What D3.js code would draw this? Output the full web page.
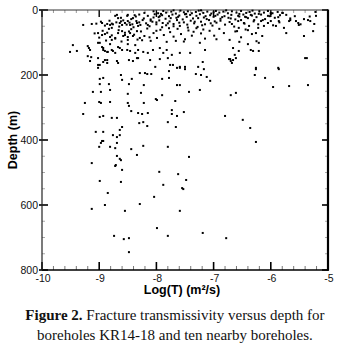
<!DOCTYPE html>
<html><head><meta charset="utf-8">
<script src="https://cdn.jsdelivr.net/npm/d3@7/dist/d3.min.js"></script>
<style>body{margin:0;background:#fff}svg{display:block}</style>
</head><body>
<svg id="c" width="345" height="350"></svg>
<script>
// ---- data ----
const xMajorTicks = [-10, -9, -8, -7, -6, -5];
const yMajorTicks = [0, 200, 400, 600, 800];
const xTitle = "Log(T) (m²/s)";
const yTitle = "Depth (m)";
const captionBold = "Figure 2.";
const captionLine1 = " Fracture transmissivity versus depth for";
const captionLine2 = "boreholes KR14-18 and ten nearby boreholes.";

// [log10 T, depth m] – near-surface band (0–100 m)
const shallowFractures = [
[-8.21,9],[-8.05,4],[-7.97,10],[-7.88,3],[-7.83,8],[-7.74,5],[-7.66,11],[-7.58,2],[-7.52,7],[-7.45,4],[-7.38,10],[-7.31,6],[-7.26,2],[-7.18,9],[-7.11,5],[-7.04,11],[-6.96,3],[-6.9,8],[-6.83,5],[-6.75,10],[-6.68,4],[-6.6,8],[-6.52,3],[-6.43,9],[-6.37,6],[-6.28,11],[-6.2,4],[-6.12,8],[-6.05,3],[-5.97,10],[-5.88,6],[-5.8,9],[-5.22,6],[-7.92,12],[-7.7,1],[-7.48,12],[-7.22,1],[-7.0,7],[-6.78,1],[-6.55,12],[-6.32,2],[-6.0,12],
[-8.72,18],[-8.62,24],[-8.5,15],[-8.44,28],[-8.36,20],[-8.3,14],[-8.22,26],[-8.15,18],[-8.1,29],[-8.03,13],[-7.96,22],[-7.9,16],[-7.84,27],[-7.78,19],[-7.72,14],[-7.65,24],[-7.6,17],[-7.54,29],[-7.47,21],[-7.41,15],[-7.36,26],[-7.3,18],[-7.24,13],[-7.17,23],[-7.12,28],[-7.06,16],[-7.0,21],[-6.93,14],[-6.88,27],[-6.81,19],[-6.74,24],[-6.69,15],[-6.62,29],[-6.55,20],[-6.48,14],[-6.4,25],[-6.33,17],[-6.25,22],[-6.17,14],[-6.1,28],[-6.02,19],[-5.93,24],[-5.84,16],[-5.66,26],[-5.58,19],[-5.42,28],[-5.32,20],[-8.05,23],[-7.75,25],[-7.5,13],[-7.27,25],[-6.97,18],[-6.7,26],[-6.45,21],[-8.38,16],[-7.94,19],[-7.62,21],[-7.14,19],[-6.85,22],
[-9.05,42],[-8.97,36],[-8.9,48],[-8.82,33],[-8.76,44],[-8.7,38],[-8.65,51],[-8.58,32],[-8.52,45],[-8.47,39],[-8.4,53],[-8.35,34],[-8.28,46],[-8.24,31],[-8.18,41],[-8.12,50],[-8.07,36],[-8.0,44],[-7.95,32],[-7.89,40],[-7.83,47],[-7.77,35],[-7.7,43],[-7.64,31],[-7.59,49],[-7.52,38],[-7.46,45],[-7.4,33],[-7.34,41],[-7.28,52],[-7.22,36],[-7.15,44],[-7.08,31],[-7.02,48],[-6.95,39],[-6.88,33],[-6.8,45],[-6.72,37],[-6.64,51],[-6.57,34],[-6.46,42],[-6.38,49],[-6.3,35],[-6.22,44],[-6.14,31],[-6.05,40],[-5.96,47],[-5.85,38],[-5.66,31],[-5.48,44],[-8.55,40],[-8.3,38],[-8.1,33],[-7.9,53],[-7.6,39],[-7.45,54],[-7.2,47],[-6.98,35],[-6.68,43],[-8.78,42],[-8.42,44],[-8.15,46],[-7.8,41],[-7.33,36],[-7.05,41],[-8.62,35],[-8.0,38],[-7.7,50],
[-9.08,72],[-9.0,85],[-8.94,64],[-8.88,94],[-8.83,58],[-8.78,78],[-8.72,88],[-8.66,62],[-8.61,97],[-8.55,70],[-8.5,83],[-8.44,59],[-8.39,76],[-8.33,91],[-8.27,66],[-8.21,80],[-8.16,57],[-8.1,95],[-8.05,71],[-7.99,86],[-7.93,61],[-7.87,77],[-7.82,98],[-7.76,68],[-7.7,82],[-7.63,58],[-7.57,74],[-7.5,90],[-7.44,63],[-7.38,79],[-7.3,56],[-7.22,72],[-7.15,88],[-7.07,64],[-6.99,79],[-6.9,58],[-6.82,71],[-6.72,92],[-6.62,66],[-6.52,84],[-6.44,60],[-6.33,74],[-6.25,96],[-8.58,80],[-8.25,93],[-8.0,64],[-7.66,95],[-7.35,67],[-6.95,90],[-8.86,70],[-8.48,66],[-8.12,84],[-7.78,56],[-7.52,97],[-7.18,60],
[-9.28,46],[-9.13,43],[-8.95,40],[-8.86,43],[-8.81,46],[-8.78,55],[-8.69,15],[-8.67,25],[-8.64,40],[-8.6,46],[-8.51,18],[-8.5,34],[-8.46,46],[-8.41,25],[-8.34,40],[-8.32,49],
[-9.02,71],[-8.95,77],[-8.9,74],[-8.81,83],[-8.78,92],[-8.72,86],[-8.67,71],[-8.6,65],[-8.55,77],[-8.5,92],[-8.46,71],[-8.41,80],[-8.34,65],[-8.29,86],
[-6.57,18],[-6.52,31],[-6.43,22],[-6.47,40],[-6.35,15],[-6.29,31],[-6.21,12],[-6.17,34],[-6.12,49],[-6.05,18],[-6.22,55],[-6.56,55],[-6.4,62],[-6.26,71],[-6.15,80],[-6.59,65],[-5.91,49],
[-5.21,18],[-5.35,31],[-5.31,34],[-5.24,43],[-5.56,34],[-5.52,40],[-5.51,46],[-5.68,34],[-5.77,55],[-5.73,71],[-5.87,22],[-5.86,34],[-6.0,9],[-6.0,34],[-5.79,9],[-5.73,15],[-5.42,80],[-5.26,65],[-6.55,98]
];

// [log10 T, depth m] – deeper fractures (> 100 m)
const deepFractures = [
[-6.21,101],[-6.56,126],[-6.35,123],[-6.31,126],[-6.21,126],[-6.61,148],[-5.4,148],[-6.26,178],[-5.87,178],[-6.4,105],
[-9.46,108],[-9.39,126],[-9.51,129],[-9.2,111],[-9.16,123],[-9.18,117],[-9.14,145],[-9.02,101],[-8.95,114],[-8.93,123],[-8.9,126],[-8.85,129],[-8.76,126],[-8.81,105],[-8.67,114],[-8.6,123],[-8.5,105],[-8.46,126],[-8.37,108],[-8.32,123],
[-9.2,142],[-9.16,157],[-9.02,148],[-8.99,169],[-8.9,154],[-8.86,163],[-8.69,157],[-8.67,163],[-8.48,154],[-8.41,157],[-8.32,148],
[-8.99,101],[-8.93,117],[-8.86,129],[-8.78,123],[-8.72,132],[-8.64,117],[-8.51,123],[-8.37,132],[-8.23,129],[-8.15,132],[-8.06,123],[-7.94,117],[-7.88,132],[-7.82,123],[-7.73,138],[-7.59,132],[-7.41,132],[-7.24,101],[-7.15,123],[-6.66,117],[-6.63,138],
[-9.02,169],[-8.93,160],[-8.86,154],[-8.34,148],[-8.11,154],[-7.94,151],[-7.8,148],[-7.71,169],[-7.59,175],[-7.5,175],[-7.27,175],[-7.19,160],[-6.71,151],[-6.68,163],[-5.37,148],[-8.02,175],[-7.76,169],[-6.73,151],[-6.7,157],[-6.66,154],
[-9.02,178],[-8.62,200],[-8.6,215],[-8.99,212],[-8.93,209],[-8.99,228],[-8.83,228],[-8.48,228],[-8.43,212],[-8.29,194],[-8.2,194],[-8.16,197],[-8.09,197],[-8.22,231],[-7.9,212],[-7.78,209],[-7.78,188],[-7.64,178],[-7.59,178],[-7.64,231],[-7.59,231],
[-9.11,252],[-8.97,252],[-8.81,246],[-8.5,258],[-8.27,255],[-8.01,274],[-7.99,277],[-7.9,262],[-7.67,280],[-9.25,286],[-9.0,283],[-8.97,286],[-8.81,283],[-8.5,286],[-8.48,295],[-8.22,286],[-8.44,311],[-9.28,320],[-8.99,329],[-8.93,326],[-8.78,332],[-8.69,332],[-8.32,317],[-8.25,320],[-8.15,317],[-7.73,308],[-7.73,320],[-7.64,326],[-7.52,314],
[-8.3,348],[-8.23,345],[-8.16,357],[-7.8,345],[-7.66,360],[-8.64,369],[-8.6,360],[-9.06,375],[-8.93,375],[-8.76,385],[-8.69,391],[-8.64,385],[-8.95,403],[-8.93,403],[-8.97,409],[-8.69,409],[-9.0,421],[-8.81,421],[-8.72,425],[-8.44,428],[-8.23,418],[-7.8,421],[-8.69,449],[-8.64,458],[-8.62,462],[-8.34,446],[-9.13,471],[-8.71,477],
[-7.5,182],[-7.31,197],[-7.22,200],[-7.17,182],[-7.12,206],[-7.06,218],[-7.43,252],[-7.24,246],[-6.7,262],[-6.61,255],[-6.28,200],[-6.26,182],[-5.86,182],[-6.1,209],[-5.96,237],[-5.68,234],[-5.35,231],[-6.8,326],[-6.49,338],[-6.36,363],[-6.26,406],[-7.43,452],
[-8.72,480],[-8.6,492],[-7.95,498],[-7.62,505],[-8.99,526],[-8.62,529],[-7.88,538],[-8.85,563],[-7.55,548],[-8.04,575],[-8.9,600],[-9.13,612],[-8.55,618],[-8.29,597],[-7.59,618],[-7.99,671],[-7.8,695],[-8.74,695],[-8.57,705],[-8.48,702],[-8.48,745],
[-7.48,523],[-7.53,551],[-7.19,686],[-6.78,702]
];

// ---- drawing ----
const svg = d3.select("#c");
const x = d3.scaleLinear().domain([-10, -5]).range([42, 328]);
const y = d3.scaleLinear().domain([0, 800]).range([10, 270]);
const [x0, x1] = x.range(), [y0, y1] = y.range();

const xMinor = d3.range(-10, -5.0001, 0.2).filter(v => Math.abs(v - Math.round(v)) > 1e-6);
const yMinor = d3.range(0, 800.001, 50).filter(v => v % 200 !== 0);

const g = svg.append("g");
// minor ticks
g.selectAll(".xmb").data(xMinor).join("line")
  .attr("x1", d => x(d)).attr("x2", d => x(d)).attr("y1", y1).attr("y2", y1 - 4)
  .attr("stroke", "#777").attr("stroke-width", 1);
g.selectAll(".xmt").data(xMinor).join("line")
  .attr("x1", d => x(d)).attr("x2", d => x(d)).attr("y1", y0).attr("y2", y0 + 3)
  .attr("stroke", "#999").attr("stroke-width", 1);
g.selectAll(".yml").data(yMinor).join("line")
  .attr("x1", x0).attr("x2", x0 + 3).attr("y1", d => y(d)).attr("y2", d => y(d))
  .attr("stroke", "#aaa").attr("stroke-width", 1);
g.selectAll(".ymr").data(yMinor).join("line")
  .attr("x1", x1).attr("x2", x1 - 3).attr("y1", d => y(d)).attr("y2", d => y(d))
  .attr("stroke", "#aaa").attr("stroke-width", 1);
// major ticks
g.selectAll(".xMb").data(xMajorTicks).join("line")
  .attr("x1", d => x(d)).attr("x2", d => x(d)).attr("y1", y1).attr("y2", y1 - 8)
  .attr("stroke", "#000").attr("stroke-width", 1.6);
g.selectAll(".xMt").data(xMajorTicks).join("line")
  .attr("x1", d => x(d)).attr("x2", d => x(d)).attr("y1", y0).attr("y2", y0 + 7)
  .attr("stroke", "#000").attr("stroke-width", 1.4);
g.selectAll(".yMl").data(yMajorTicks).join("line")
  .attr("x1", x0 - 3).attr("x2", x0 + 6).attr("y1", d => y(d)).attr("y2", d => y(d))
  .attr("stroke", "#000").attr("stroke-width", 1.6);
g.selectAll(".yMr").data(yMajorTicks).join("line")
  .attr("x1", x1).attr("x2", x1 - 6).attr("y1", d => y(d)).attr("y2", d => y(d))
  .attr("stroke", "#000").attr("stroke-width", 1.6);

// frame
g.append("line").attr("x1", x0).attr("x2", x1).attr("y1", y0).attr("y2", y0).attr("stroke", "#333").attr("stroke-width", 1);
g.append("line").attr("x1", x0).attr("x2", x1 + 1).attr("y1", y1).attr("y2", y1).attr("stroke", "#000").attr("stroke-width", 1.5);
g.append("line").attr("x1", x0).attr("x2", x0).attr("y1", y0).attr("y2", y1).attr("stroke", "#222").attr("stroke-width", 1.2);
g.append("line").attr("x1", x1).attr("x2", x1).attr("y1", y0 - 0.5).attr("y2", y1 + 0.5).attr("stroke", "#000").attr("stroke-width", 2.2);

// points
const pts = shallowFractures.concat(deepFractures);
g.selectAll(".pt").data(pts).join("rect")
  .attr("x", d => x(d[0]) - 1).attr("y", d => y(d[1]) - 1)
  .attr("width", 2).attr("height", 2).attr("fill", "#000");

// tick labels
const lab = svg.append("g").attr("font-family", "Liberation Sans, Arial, sans-serif").attr("font-size", 10.5).attr("fill", "#111");
lab.selectAll(".yl").data(yMajorTicks).join("text")
  .attr("x", x0 - 4).attr("y", d => y(d)).attr("dy", "0.35em").attr("text-anchor", "end")
  .text(d => d3.format("d")(d));
lab.selectAll(".xl").data(xMajorTicks).join("text")
  .attr("x", d => x(d) + 1).attr("y", 282).attr("text-anchor", "middle")
  .text(d => "-" + Math.abs(d));

// axis titles
svg.append("text").attr("x", 182).attr("y", 294).attr("text-anchor", "middle")
  .attr("font-family", "Liberation Sans, Arial, sans-serif").attr("font-weight", "bold").attr("font-size", 12.5)
  .text(xTitle);
svg.append("text").attr("transform", "translate(17,140) rotate(-90)").attr("text-anchor", "middle")
  .attr("font-family", "Liberation Sans, Arial, sans-serif").attr("font-weight", "bold").attr("font-size", 12.5)
  .text(yTitle);

// caption
const cap = svg.append("text").attr("x", 175).attr("y", 320).attr("text-anchor", "middle")
  .attr("font-family", "Liberation Serif, Times New Roman, serif").attr("font-size", 15).attr("fill", "#111");
cap.append("tspan").attr("font-weight", "bold").text(captionBold);
cap.append("tspan").text(captionLine1);
svg.append("text").attr("x", 175).attr("y", 340).attr("text-anchor", "middle")
  .attr("font-family", "Liberation Serif, Times New Roman, serif").attr("font-size", 15).attr("fill", "#111")
  .text(captionLine2);
</script>
</body></html>
